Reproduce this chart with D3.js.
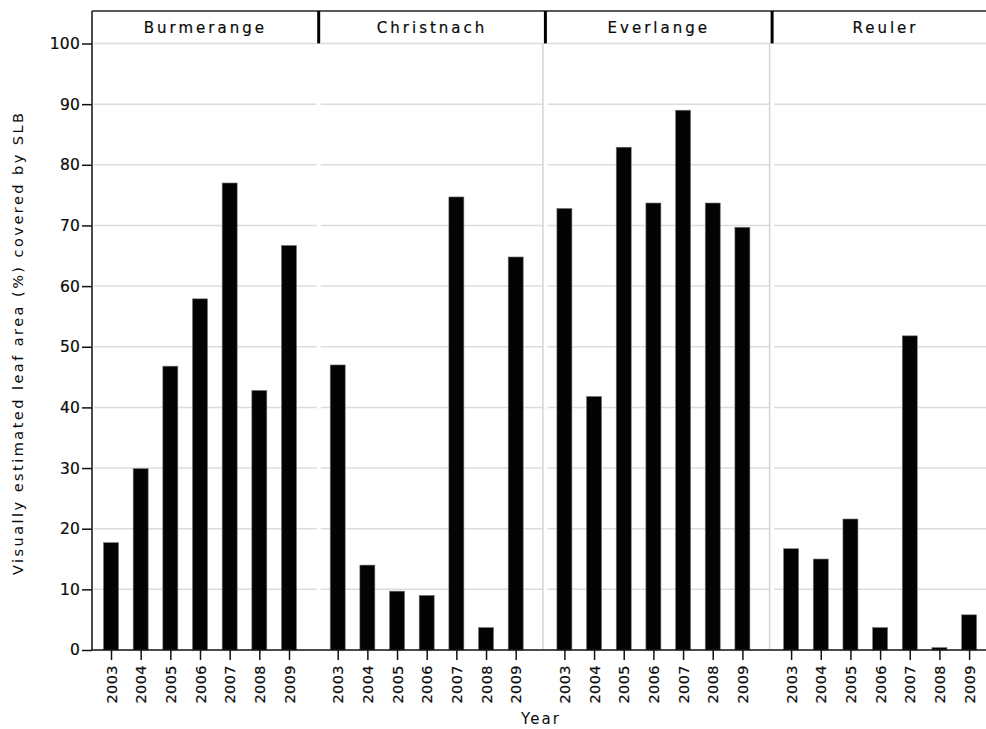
<!DOCTYPE html>
<html>
<head>
<meta charset="utf-8">
<script src="https://cdn.jsdelivr.net/npm/d3@7"></script>
<style>
  html, body { margin: 0; padding: 0; background: #fff; }
  svg { display: block; }
  text { font-family: "DejaVu Sans", sans-serif; fill: #0a0a0a; }
</style>
</head>
<body>
<svg id="chart" width="986" height="729"></svg>
<script>
// Sites (facets) and years
const sites = ["Burmerange", "Christnach", "Everlange", "Reuler"];
const years = ["2003", "2004", "2005", "2006", "2007", "2008", "2009"];

// Visually estimated leaf area (%) covered by SLB, per site and year
const burmerange = [17.7, 29.9, 46.8, 57.9, 77.0, 42.8, 66.7];
const christnach = [47.0, 14.0, 9.7, 9.0, 74.7, 3.7, 64.8];
const everlange  = [72.8, 41.8, 82.9, 73.7, 89.0, 73.7, 69.7];
const reuler     = [16.7, 15.0, 21.6, 3.7, 51.8, 0.4, 5.8];

const yTicks = [0, 10, 20, 30, 40, 50, 60, 70, 80, 90, 100];
const yTitle = "Visually estimated leaf area (%) covered by SLB";
const xTitle = "Year";

const seriesBySite = {
  Burmerange: burmerange,
  Christnach: christnach,
  Everlange: everlange,
  Reuler: reuler
};

const svg = d3.select("#chart");

const plotLeft = 92, plotTop = 11, stripBottom = 43.5, baseY = 650;
const panelW = 226.7;

const y = d3.scaleLinear().domain([0, 100]).range([baseY, stripBottom]);
const panel = d3.scaleBand().domain(sites).range([plotLeft, plotLeft + panelW * sites.length]);
const xIn = d3.scalePoint().domain(years).range([19, 197]);
const barW = 15;

// Horizontal gridlines, one run per facet
sites.forEach(s => {
  const x0 = panel(s);
  svg.append("g").selectAll("line")
    .data(yTicks.filter(t => t > 0))
    .join("line")
    .attr("x1", x0 + 2).attr("x2", x0 + panelW - 2)
    .attr("y1", d => y(d)).attr("y2", d => y(d))
    .attr("stroke", "#dcdcdc").attr("stroke-width", 1.5);
});

// Light facet separators in the plotting area
sites.slice(2).forEach(s => {
  const xs = panel(s) - 2.5;
  svg.append("line")
    .attr("x1", xs).attr("x2", xs)
    .attr("y1", stripBottom).attr("y2", baseY - 1)
    .attr("stroke", "#d4d4d4").attr("stroke-width", 1.5);
});

// Bars
sites.forEach(s => {
  const x0 = panel(s);
  const vals = seriesBySite[s];
  svg.append("g").selectAll("rect")
    .data(years.map((yr, i) => ({ yr, v: vals[i] })))
    .join("rect")
    .attr("x", d => x0 + xIn(d.yr) - barW / 2)
    .attr("width", barW)
    .attr("y", d => y(d.v))
    .attr("height", d => y(0) - y(d.v))
    .attr("fill", "#030303")
    .attr("stroke", "#777")
    .attr("stroke-width", 0.6);
});

// Facet strip: top rule, dividers and titles
svg.append("line")
  .attr("x1", plotLeft).attr("x2", 986)
  .attr("y1", plotTop).attr("y2", plotTop)
  .attr("stroke", "#222").attr("stroke-width", 1.5);

sites.slice(1).forEach(s => {
  svg.append("line")
    .attr("x1", panel(s)).attr("x2", panel(s))
    .attr("y1", plotTop).attr("y2", stripBottom)
    .attr("stroke", "#000").attr("stroke-width", 3);
});

sites.forEach(s => {
  svg.append("text")
    .attr("x", panel(s) + panelW / 2)
    .attr("y", 33)
    .attr("text-anchor", "middle")
    .attr("font-size", 15)
    .attr("letter-spacing", "3px")
    .attr("stroke", "#0a0a0a").attr("stroke-width", 0.2)
    .text(s);
});

// Y axis
const yAxis = svg.append("g")
  .attr("transform", `translate(${plotLeft},0)`)
  .call(d3.axisLeft(y).tickValues(yTicks).tickSize(10).tickPadding(2));
yAxis.select(".domain").remove();
yAxis.selectAll(".tick line").attr("stroke", "#111").attr("stroke-width", 1.5);
yAxis.selectAll(".tick text")
  .attr("font-size", 15.5)
  .attr("letter-spacing", "0.2px")
  .attr("font-family", "DejaVu Sans, sans-serif")
  .attr("fill", "#0a0a0a")
  .attr("stroke", "#0a0a0a").attr("stroke-width", 0.2);

svg.append("line")
  .attr("x1", plotLeft).attr("x2", plotLeft)
  .attr("y1", plotTop).attr("y2", baseY)
  .attr("stroke", "#111").attr("stroke-width", 1.5);

// Baseline
svg.append("line")
  .attr("x1", plotLeft).attr("x2", 986)
  .attr("y1", baseY).attr("y2", baseY)
  .attr("stroke", "#111").attr("stroke-width", 1.5);

// X axes per facet
sites.forEach(s => {
  const x0 = panel(s);
  const g = svg.append("g")
    .attr("transform", `translate(${x0},${baseY})`)
    .call(d3.axisBottom(xIn).tickSize(10).tickPadding(4));
  g.select(".domain").remove();
  g.selectAll(".tick line").attr("stroke", "#111").attr("stroke-width", 1.5);
  g.selectAll(".tick text")
    .attr("font-size", 14.5)
    .attr("font-family", "DejaVu Sans, sans-serif")
    .attr("fill", "#0a0a0a")
    .attr("stroke", "#0a0a0a").attr("stroke-width", 0.2)
    .attr("letter-spacing", "0.4px")
    .attr("text-anchor", "end")
    .attr("dy", "0.35em")
    .attr("transform", "rotate(-90)")
    .attr("x", -15)
    .attr("y", 0);
});

// Axis titles
svg.append("text")
  .attr("transform", "translate(23,344) rotate(-90)")
  .attr("text-anchor", "middle")
  .attr("font-size", 14.5)
  .attr("textLength", 462)
  .attr("lengthAdjust", "spacing")
  .text(yTitle);

svg.append("text")
  .attr("x", 541)
  .attr("y", 724)
  .attr("text-anchor", "middle")
  .attr("font-size", 15)
  .attr("letter-spacing", "2px")
  .text(xTitle);
</script>
</body>
</html>
